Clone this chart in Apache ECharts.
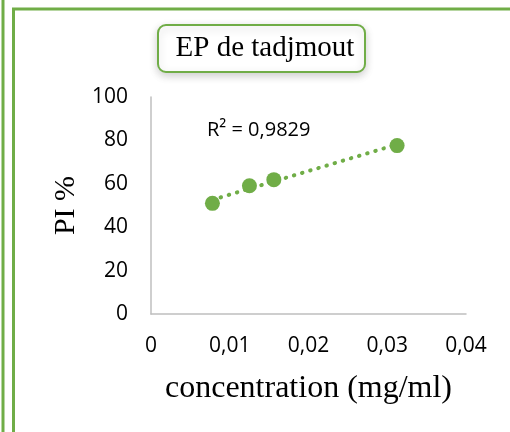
<!DOCTYPE html>
<html>
<head>
<meta charset="utf-8">
<script src="https://cdn.jsdelivr.net/npm/echarts@6/dist/echarts.min.js"></script>
<style>
  html, body { margin: 0; padding: 0; background: #fff; }
  #chart { width: 510px; height: 432px; }
</style>
</head>
<body>
<div id="chart"></div>
<script>
// Inhibition percentage versus concentration
const concentrations = [0.0078, 0.0125, 0.0156, 0.03125];
const inhibition = [51.0, 59.1, 61.9, 77.6];
const xTicks = [0, 0.01, 0.02, 0.03, 0.04];
const yTicks = [0, 20, 40, 60, 80, 100];
const titleText = 'EP de tadjmout';
const rSquaredText = 'R² = 0,9829';

const green = '#70ad47';

// least-squares linear trend through the measured points
function linearFit(xs, ys) {
  const n = xs.length;
  const mx = xs.reduce((a, b) => a + b, 0) / n;
  const my = ys.reduce((a, b) => a + b, 0) / n;
  let sxy = 0, sxx = 0;
  for (let i = 0; i < n; i++) {
    sxy += (xs[i] - mx) * (ys[i] - my);
    sxx += (xs[i] - mx) * (xs[i] - mx);
  }
  const slope = sxy / sxx;
  return { slope, intercept: my - slope * mx };
}
const fit = linearFit(concentrations, inhibition);
const xFirst = Math.min(...concentrations);
const xLast = Math.max(...concentrations);
const trend = [
  [xFirst, fit.intercept + fit.slope * xFirst],
  [xLast, fit.intercept + fit.slope * xLast]
];

const chart = echarts.init(document.getElementById('chart'), null, { renderer: 'canvas' });

const fmt = v => String(v).replace('.', ',');

chart.setOption({
  animation: false,
  backgroundColor: '#ffffff',
  grid: { left: 151, right: 44, top: 97, bottom: 118 },
  xAxis: {
    type: 'value',
    min: xTicks[0],
    max: xTicks[xTicks.length - 1],
    interval: 0.01,
    axisLine: { show: true, lineStyle: { color: '#bfbfbf', width: 1.5 } },
    axisTick: { show: false },
    splitLine: { show: false },
    axisLabel: {
      color: '#000', fontFamily: 'Open Sans', fontSize: 21, margin: 22,
      formatter: v => fmt(v)
    },
    name: 'concentration (mg/ml)',
    nameLocation: 'middle',
    nameGap: 59,
    nameTextStyle: { color: '#000', fontFamily: 'Liberation Serif', fontSize: 32 }
  },
  yAxis: {
    type: 'value',
    min: yTicks[0],
    max: yTicks[yTicks.length - 1],
    interval: 20,
    axisLine: { show: true, lineStyle: { color: '#bfbfbf', width: 1.5 } },
    axisTick: { show: false },
    splitLine: { show: false },
    axisLabel: { color: '#000', fontFamily: 'Open Sans', fontSize: 21, margin: 23 },
    name: 'PI %',
    nameLocation: 'middle',
    nameGap: 69,
    nameRotate: 90,
    nameTextStyle: { color: '#000', fontFamily: 'Liberation Serif', fontSize: 30 }
  },
  series: [
    {
      type: 'line',
      data: trend,
      symbol: 'none',
      lineStyle: { color: green, width: 4, type: [0.5, 8], cap: 'round' },
      z: 2
    },
    {
      type: 'scatter',
      data: concentrations.map((c, i) => [c, inhibition[i]]),
      symbol: 'circle',
      symbolSize: 15,
      itemStyle: { color: green, opacity: 1 },
      z: 3
    }
  ],
  graphic: [
    // page frame
    { type: 'line', shape: { x1: 3, y1: 0, x2: 3, y2: 432 }, style: { stroke: green, lineWidth: 3 } },
    { type: 'line', shape: { x1: 13.5, y1: 9, x2: 13.5, y2: 432 }, style: { stroke: green, lineWidth: 3 } },
    { type: 'line', shape: { x1: 12, y1: 9, x2: 510, y2: 9 }, style: { stroke: green, lineWidth: 3 } },
    // title box
    {
      type: 'rect',
      shape: { x: 158, y: 25, width: 207, height: 47, r: 8 },
      style: {
        fill: '#fff', stroke: green, lineWidth: 2,
        shadowBlur: 8, shadowOffsetY: 3, shadowColor: 'rgba(0,0,0,0.18)'
      }
    },
    {
      type: 'text',
      x: 265, y: 48,
      style: {
        text: titleText, fill: '#000', font: '29px "Liberation Serif"',
        align: 'center', verticalAlign: 'middle'
      }
    },
    // R² annotation
    {
      type: 'text',
      x: 207, y: 130,
      style: {
        text: rSquaredText, fill: '#000', font: '20px "Open Sans"',
        align: 'left', verticalAlign: 'middle'
      }
    }
  ]
});
</script>
</body>
</html>
